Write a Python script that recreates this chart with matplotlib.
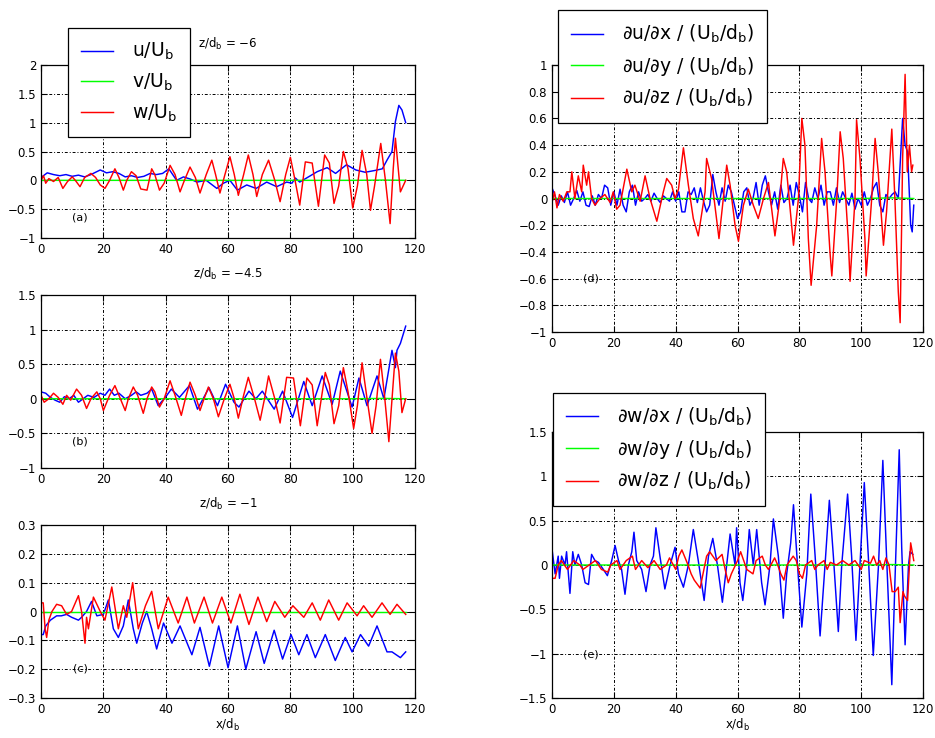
import matplotlib
matplotlib.use("Agg")
from matplotlib import pyplot as plt

plt.rcParams['font.family'] = ['DejaVu Sans']

# ---------------- panel (a): z/d_b = -6 ----------------
a_u_x = [0, 2, 4, 6, 8, 10, 12, 14, 16, 19, 21, 23, 25, 27, 29, 31, 33, 35, 37, 39, 41, 43.5, 45.7, 48, 50,
         53, 56.4, 58.5, 60.6, 63, 66, 69, 72.4, 75.6, 78.8, 80.5, 81.6, 83, 85.8, 88.6, 91.8, 94.5, 98, 101,
         104, 107, 109.5, 111, 112.6, 113.7, 114.8, 115.8, 117]
a_u_y = [0.05, 0.13, 0.1, 0.08, 0.1, 0.07, 0.09, 0.06, 0.1, 0.18, 0.13, 0.15, 0.12, 0.06, 0.08, 0.05, 0.07,
         0.12, 0.1, 0.12, 0.2, 0.0, 0.06, 0.02, -0.03, 0.0, -0.14, -0.05, 0.0, -0.17, -0.08, -0.14, -0.03,
         -0.11, -0.03, -0.05, 0.04, -0.03, 0.06, 0.15, 0.22, 0.12, 0.27, 0.18, 0.14, 0.17, 0.2, 0.35, 0.5,
         1.02, 1.3, 1.22, 1.0]
a_w_x = [0, 0.8, 1.5, 2.5, 4, 5.5, 7, 8.5, 10, 11, 12.5, 14, 16, 17.5, 19, 20.5, 22, 23.7, 25, 26.4, 27.5,
         29, 30.5, 32, 34, 35.5, 36.5, 38, 39.5, 41.4, 43, 44.6, 46, 47.8, 49.5, 51, 53, 54.8, 56, 57.4, 59,
         60.6, 62, 63.3, 65, 66.5, 68, 69.2, 71, 73, 75, 76.7, 78.5, 80, 81.5, 83, 84.8, 87, 89, 91, 92.5,
         94, 95.5, 97, 98.5, 100, 101.5, 103, 104.5, 105.7, 107, 109, 110.5, 112, 113, 113.7, 115.3, 117]
a_w_y = [0.0, 0.08, -0.05, 0.03, -0.02, 0.05, -0.14, -0.02, 0.06, 0.0, -0.11, 0.05, 0.12, 0.05, -0.08,
         -0.14, 0.0, 0.2, 0.05, -0.17, 0.0, 0.15, 0.08, -0.15, -0.17, 0.2, 0.1, -0.17, -0.05, 0.26, 0.1,
         -0.2, 0.0, 0.23, 0.05, -0.22, 0.1, 0.35, 0.1, -0.22, 0.1, 0.41, 0.1, -0.26, 0.1, 0.44, 0.1, -0.28,
         0.1, 0.35, 0.0, -0.37, 0.1, 0.4, 0.0, -0.43, 0.32, 0.3, -0.45, 0.44, 0.3, -0.4, -0.1, 0.5, 0.2,
         -0.48, -0.1, 0.52, 0.1, -0.52, -0.1, 0.64, 0.0, -0.75, 0.2, 0.73, -0.2, 0.0]

# ---------------- panel (b): z/d_b = -4.5 ----------------
b_u_x = [0, 1.5, 3, 4.5, 6, 7.5, 9, 10.5, 12, 13.5, 15, 17, 19, 20.5, 22, 23.5, 25, 27, 29, 30.5, 32, 34,
         35.5, 37.6, 40.2, 41.8, 44.4, 47.6, 50.2, 53.9, 56.6, 59.2, 61.9, 63.5, 66.7, 68.9, 71, 74.8,
         77.5, 80.7, 84.3, 87, 90.2, 93.4, 96, 99.8, 102, 104.6, 107.8, 110, 112.6, 113.7, 114.2, 115.3, 117]
b_u_y = [0.1, 0.08, 0.02, -0.02, -0.05, 0.03, 0.0, 0.05, -0.05, 0.0, 0.05, 0.02, 0.08, 0.05, 0.14, 0.05,
         0.08, 0.0, 0.05, 0.1, 0.05, 0.08, 0.14, -0.1, 0.04, 0.14, 0.02, 0.19, -0.15, 0.16, -0.1, 0.21,
         -0.05, -0.12, 0.11, 0.0, 0.11, -0.15, 0.11, -0.27, 0.25, -0.1, 0.33, -0.08, 0.4, -0.12, 0.3, -0.1,
         0.33, 0.0, 0.7, 0.45, 0.7, 0.8, 1.05]
b_w_x = [0, 1, 2.5, 4, 5.5, 7, 8.2, 9.5, 11.4, 13, 14.6, 16, 17.9, 19, 20, 22, 23.7, 25, 27, 28, 29.6, 31,
         32.8, 34, 35.5, 36.5, 38, 39.5, 41.4, 43, 45, 46.3, 47.8, 49.5, 51, 52.3, 53.7, 55.3, 56.9, 58.8,
         60.6, 62, 63.3, 65, 66.5, 68.5, 70.3, 71.7, 73, 75, 76.7, 77.8, 78.8, 81, 83.2, 85.3, 87, 88.6,
         91.2, 92.5, 94, 95.5, 97, 98.5, 100.3, 101.5, 103, 104.6, 106.2, 107.5, 108.9, 110.3, 111.6,
         113.7, 114.8, 115.8, 117]
b_w_y = [0.05, -0.05, 0.0, 0.08, 0.02, -0.08, 0.05, -0.02, 0.14, 0.05, -0.14, 0.0, 0.1, 0.0, -0.17, 0.05,
         0.19, 0.05, -0.17, 0.0, 0.17, 0.05, -0.21, 0.0, 0.17, 0.1, -0.12, 0.0, 0.26, 0.05, -0.24, 0.0,
         0.24, 0.05, -0.17, 0.0, 0.17, 0.0, -0.26, 0.0, 0.21, 0.0, -0.28, 0.05, 0.31, 0.0, -0.31, 0.0, 0.33,
         0.0, -0.35, 0.0, 0.31, 0.3, -0.39, 0.3, 0.2, -0.39, 0.38, 0.2, -0.36, -0.1, 0.45, 0.1, -0.43, -0.1,
         0.52, 0.0, -0.5, -0.1, 0.57, 0.0, -0.62, 0.66, 0.4, -0.2, 0.0]

# ---------------- panel (c): z/d_b = -1 ----------------
c_u_x = [0, 0.7, 1.5, 3, 5, 6.5, 8.2, 9.8, 12, 13, 14.6, 16.2, 17.9, 20, 21.6, 23.2, 24.8, 26.4, 28, 29.6,
         30.7, 32.5, 33.9, 35.5, 37.1, 39.3, 42, 44.6, 48.4, 51, 54, 57, 60, 63, 65.7, 69, 71.6, 74.8,
         77.5, 80.2, 82.7, 85.3, 88, 91.2, 94.4, 97.6, 99.8, 102.5, 105.1, 107.8, 111, 112.6, 115.3, 117]
c_u_y = [-0.08, -0.08, -0.05, -0.03, -0.015, -0.015, -0.01, -0.02, -0.03, -0.02, 0.0, 0.035, -0.015, -0.01,
         0.04, -0.06, -0.09, -0.05, 0.04, -0.06, -0.11, -0.04, 0.0, -0.06, -0.13, -0.04, -0.11, -0.05,
         -0.15, -0.055, -0.19, -0.05, -0.195, -0.05, -0.2, -0.07, -0.18, -0.065, -0.165, -0.08, -0.15,
         -0.08, -0.16, -0.08, -0.17, -0.09, -0.14, -0.08, -0.12, -0.05, -0.14, -0.14, -0.16, -0.14]
c_w_x = [0, 0.7, 1.3, 1.8, 2.5, 3.5, 5, 6.6, 8.2, 9.8, 12, 13, 13.6, 14.1, 14.6, 15.2, 16.8, 19, 20.5, 22.7,
         24.8, 26.4, 27.5, 29.4, 31.2, 33.5, 35.5, 37.6, 40.8, 44, 46.8, 49.2, 52.3, 55, 58, 60.9, 63.8,
         66.7, 69.6, 72.4, 75, 78.2, 80.8, 84.3, 87, 89.6, 92.3, 95.5, 98.2, 101.4, 103.5, 106.2, 109.4,
         112, 114.2, 117]
c_w_y = [0.03, 0.03, -0.06, -0.09, -0.03, 0.0, 0.025, 0.02, -0.01, 0.0, 0.055, 0.0, -0.06, -0.11, -0.02,
         -0.06, 0.05, 0.0, -0.03, 0.085, -0.06, 0.02, -0.02, 0.1, -0.06, 0.02, 0.07, -0.06, 0.05, -0.04,
         0.05, -0.04, 0.05, -0.04, 0.05, -0.04, 0.06, -0.045, 0.05, -0.035, 0.035, -0.02, 0.02, -0.02,
         0.03, -0.03, 0.04, -0.03, 0.03, -0.015, 0.02, -0.02, 0.03, -0.01, 0.025, -0.01]

# ---------------- panel (d): du/dx, du/dy, du/dz ----------------
d_ux_x = list(range(0, 113)) + [113.4, 114.2, 115, 116, 116.5, 117]
d_ux_y = [0.08, 0.02, -0.05, 0.02, -0.03, 0.05, -0.05, 0.0, 0.06, -0.02, 0.05, -0.05, -0.06, 0.02, -0.05,
          0.03, 0.0, 0.1, 0.08, -0.05, 0.05, -0.05, 0.07, -0.05, -0.1, 0.05, 0.1, -0.05, 0.05, -0.02, 0.0,
          0.03, -0.02, 0.04, 0.0, -0.03, 0.02, 0.0, -0.02, 0.05, -0.02, 0.05, -0.1, -0.1, 0.05, 0.03, 0.08,
          -0.03, 0.08, -0.02, -0.1, -0.05, 0.18, 0.05, -0.05, 0.08, -0.02, 0.1, 0.05, -0.05, -0.15, -0.1,
          0.05, 0.08, -0.05, 0.0, 0.12, -0.05, 0.1, 0.17, 0.05, -0.05, 0.05, -0.08, 0.1, -0.03, 0.0, 0.1,
          -0.05, 0.12, 0.02, -0.1, 0.12, 0.0, -0.03, 0.08, 0.0, 0.1, -0.05, 0.05, 0.05, -0.05, 0.08, -0.03,
          0.05, 0.0, -0.05, 0.04, -0.08, 0.0, -0.05, 0.05, -0.05, 0.0, 0.08, 0.12, -0.05, -0.1, 0.03, 0.0,
          0.03, 0.05, 0.0, 0.6, 0.4, 0.35, -0.2, -0.25, -0.05]
d_uz_x = [0, 0.8, 1.6, 2.4, 3.6, 4.8, 5.8, 6.4, 7.4, 8.5, 9.6, 10.1, 11.2, 11.8, 12.8, 13.9, 15.5, 17.1,
          18.8, 19.8, 20.9, 22, 24.2, 25.8, 26.8, 28.5, 30.1, 31.7, 33.9, 36, 37.1, 38.7, 39.8, 40.9, 42.5,
          44.1, 45.7, 47.3, 49.5, 50, 51.6, 54, 55.4, 56.5, 57.6, 59.2, 60.3, 61.9, 63.5, 65.1, 66.7,
          68.4, 70, 72.1, 73.7, 74.8, 75.9, 78.1, 79.7, 80.8, 81.8, 82.9, 83.8, 85.6, 87.2, 88.3, 89.9,
          90.5, 92.1, 93.2, 94.2, 95.8, 96.4, 98, 98.5, 99.6, 101.2, 101.6, 103.4, 104.5, 105.5, 107.2,
          108.2, 109.9, 110.9, 112, 112.6, 113.4, 114.2, 114.9, 115.6, 116.3, 116.7]
d_uz_y = [-0.03, 0.05, -0.07, 0.03, -0.02, 0.05, 0.05, 0.2, 0.0, 0.17, 0.05, 0.25, 0.1, 0.2, 0.0, -0.05,
          0.0, 0.03, -0.03, 0.05, -0.08, -0.05, 0.22, 0.05, 0.1, -0.02, 0.17, 0.0, -0.17, 0.05, 0.15, 0.1,
          0.0, 0.07, 0.38, 0.1, -0.15, -0.28, 0.05, 0.3, 0.15, -0.3, 0.0, 0.25, 0.1, -0.2, -0.32, -0.05,
          0.07, -0.05, -0.15, 0.0, 0.12, -0.28, 0.0, 0.3, 0.2, -0.35, 0.0, 0.6, 0.4, -0.3, -0.65, -0.2,
          0.45, 0.2, -0.4, -0.58, 0.0, 0.5, 0.3, -0.3, -0.62, 0.0, 0.59, 0.3, -0.3, -0.58, 0.0, 0.45, 0.2,
          -0.35, -0.1, 0.52, 0.0, -0.7, -0.93, 0.3, 0.93, 0.2, 0.4, 0.2, 0.25]

# ---------------- panel (e): dw/dx, dw/dy, dw/dz ----------------
e_wx_x = [0, 1, 2, 2.4, 3.1, 4.2, 4.7, 5.8, 6.7, 7.4, 8.5, 9.6, 10.7, 11.8, 12.8, 13.9, 15, 16.6, 17.9,
          19.3, 20.4, 21.5, 22.5, 23.6, 24.7, 25.8, 26.5, 27.4, 29, 30.4, 31.7, 32.8, 33.6, 34.9, 36.5,
          38.2, 39.8, 40.9, 42.5, 44.1, 45.7, 47.3, 49.2, 50.6, 52, 53.5, 55.1, 56.5, 57.6, 59.2, 59.7,
          60.8, 61.7, 63, 63.8, 65.1, 66.2, 67.8, 68.9, 70.5, 71.6, 73.2, 74.8, 75.9, 77.2, 78.1, 79.4,
          80.8, 82.4, 83.7, 85.1, 86.7, 88.3, 89.7, 91, 92.6, 93.7, 95.6, 96.9, 98.3, 99.6, 101, 102.3,
          103.9, 105.6, 107, 108.2, 109.9, 110.9, 112.3, 113.1, 114.2, 115.3, 115.8, 116.7]
e_wx_y = [0.18, -0.1, 0.1, -0.15, 0.1, 0.0, 0.15, -0.32, 0.15, 0.0, 0.12, 0.0, -0.2, -0.22, 0.12, 0.05,
          0.03, -0.05, -0.12, 0.05, 0.22, 0.05, -0.05, -0.33, 0.0, 0.15, 0.37, 0.05, -0.05, -0.3, 0.0, 0.1,
          0.42, 0.1, -0.27, 0.0, 0.2, -0.1, -0.25, 0.0, 0.4, 0.05, -0.4, 0.1, 0.3, 0.0, -0.42, 0.0, 0.35,
          0.0, 0.42, -0.2, -0.4, 0.0, 0.4, 0.0, 0.4, -0.2, -0.45, 0.0, 0.52, 0.1, -0.6, -0.1, 0.25, 0.68,
          0.0, -0.7, -0.1, 0.8, 0.1, -0.8, 0.0, 0.73, 0.1, -0.75, 0.0, 0.8, 0.1, -0.85, 0.0, 0.93, 0.1,
          -1.02, 0.0, 1.18, 0.1, -1.35, -0.2, 1.3, 0.2, -0.9, 0.0, 0.15, 0.12]
e_wz_x = [0, 1, 2, 3, 5, 7, 9, 10, 12, 14, 16, 18, 19, 21, 22, 24, 26, 27, 29, 31, 33, 35, 37, 38, 40, 41,
          42, 44, 45, 46, 47.9, 50, 51, 53, 55, 56, 57, 58, 60, 61, 62, 63, 65, 66, 68, 69, 70, 72, 73,
          74, 75, 76, 78, 79, 80, 81, 82, 84, 85, 86, 88, 89, 90, 92, 94, 96, 98, 100, 101, 103, 104, 105,
          106, 107, 108, 109, 110, 111, 112, 112.6, 113.5, 114, 115, 116, 117]
e_wz_y = [-0.15, -0.15, 0.0, 0.05, -0.05, 0.05, 0.0, -0.05, 0.0, 0.05, -0.05, -0.08, 0.0, 0.05, -0.05,
          0.05, 0.1, -0.05, 0.05, -0.03, 0.05, -0.05, 0.0, 0.08, -0.05, 0.1, 0.17, 0.0, -0.1, -0.17, -0.26,
          0.1, 0.15, 0.05, 0.12, -0.05, -0.2, -0.1, 0.05, 0.15, 0.05, -0.05, -0.1, 0.05, 0.1, 0.0, -0.05,
          0.08, 0.0, -0.1, -0.17, 0.0, 0.1, 0.05, -0.1, -0.15, 0.0, 0.05, -0.05, 0.0, 0.05, -0.05, 0.03,
          0.0, 0.05, 0.0, 0.05, -0.05, 0.05, 0.02, 0.1, 0.0, 0.05, -0.05, 0.08, 0.0, -0.3, -0.3, -0.25,
          -0.65, -0.3, -0.35, -0.4, 0.25, 0.05]

# spanwise components, essentially zero everywhere
g_x = [0, 20, 40, 60, 80, 100, 110, 117]
g_y = [0.0, 0.0, 0.0, 0.0, 0.0, 0.0, 0.005, 0.0]

x_ticks = [0, 20, 40, 60, 80, 100, 120]

grid_style = (0, (3, 2, 1, 2))


def setup(ax, ylim, yticks, tag, tag_y):
    ax.set_xlim(0, 120)
    ax.set_ylim(*ylim)
    ax.set_xticks(x_ticks)
    ax.set_yticks(yticks)
    ax.set_yticklabels([("%g" % t).replace("-", "\u2212") for t in yticks])
    ax.grid(True, color="k", linestyle=grid_style, linewidth=0.7)
    ax.tick_params(direction="in", length=4, labelsize=8.5, top=True, right=True)
    for s in ax.spines.values():
        s.set_linewidth(0.9)
    ax.text(12.5, tag_y, tag, fontsize=8, ha="center", va="center")


fig = plt.figure(figsize=(9.35, 7.38), dpi=100)

lw = 1.05
leg_kw = dict(loc="upper left", borderaxespad=0, fancybox=False, framealpha=1, edgecolor="k",
              fontsize=13.5, handlelength=1.7, handletextpad=1.0, labelspacing=0.5, borderpad=0.7)

# (a)
ax = fig.add_axes([0.0439, 0.6775, 0.400, 0.2344])
ax.plot(a_u_x, a_u_y, color="b", lw=lw, label="u/U$_\\mathregular{b}$")
ax.plot(g_x, g_y, color="#00ff00", lw=lw, label="v/U$_\\mathregular{b}$")
ax.plot(a_w_x, a_w_y, color="r", lw=lw, label="w/U$_\\mathregular{b}$")
setup(ax, (-1, 2), [-1, -0.5, 0, 0.5, 1, 1.5, 2], "(a)", -0.65)
ax.set_title("z/d$_\\mathregular{b}$ = \u22126", fontsize=8.5, pad=12)
lg = ax.legend(bbox_to_anchor=(0.072, 1.214), **leg_kw)
lg.get_frame().set_linewidth(0.9)

# (b)
ax = fig.add_axes([0.0439, 0.3659, 0.400, 0.2344])
ax.plot(b_u_x, b_u_y, color="b", lw=lw)
ax.plot(g_x, g_y, color="#00ff00", lw=lw)
ax.plot(b_w_x, b_w_y, color="r", lw=lw)
setup(ax, (-1, 1.5), [-1, -0.5, 0, 0.5, 1, 1.5], "(b)", -0.62)
ax.set_title("z/d$_\\mathregular{b}$ = \u22124.5", fontsize=8.5, pad=12)

# (c)
ax = fig.add_axes([0.0439, 0.0542, 0.400, 0.2344])
ax.plot(c_u_x, c_u_y, color="b", lw=lw)
ax.plot(g_x, [0.0 for v in g_y], color="#00ff00", lw=lw)
ax.plot(c_w_x, c_w_y, color="r", lw=lw)
setup(ax, (-0.3, 0.3), [-0.3, -0.2, -0.1, 0, 0.1, 0.2, 0.3], "(c)", -0.196)
ax.set_title("z/d$_\\mathregular{b}$ = \u22121", fontsize=8.5, pad=12)
ax.set_xlabel("x/d$_\\mathregular{b}$", fontsize=8.5, labelpad=1)

# (d)
ax = fig.add_axes([0.5904, 0.5501, 0.3968, 0.3618])
ax.plot(d_ux_x, d_ux_y, color="b", lw=lw, label="\u2202u/\u2202x / (U$_\\mathregular{b}$/d$_\\mathregular{b}$)")
ax.plot(g_x, g_y, color="#00ff00", lw=lw, label="\u2202u/\u2202y / (U$_\\mathregular{b}$/d$_\\mathregular{b}$)")
ax.plot(d_uz_x, d_uz_y, color="r", lw=lw, label="\u2202u/\u2202z / (U$_\\mathregular{b}$/d$_\\mathregular{b}$)")
setup(ax, (-1, 1), [-1, -0.8, -0.6, -0.4, -0.2, 0, 0.2, 0.4, 0.6, 0.8, 1], "(d)", -0.6)
lg = ax.legend(bbox_to_anchor=(0.016, 1.206), **leg_kw)
lg.get_frame().set_linewidth(0.9)

# (e)
ax = fig.add_axes([0.5904, 0.0542, 0.3968, 0.3604])
ax.plot(e_wx_x, e_wx_y, color="b", lw=lw, label="\u2202w/\u2202x / (U$_\\mathregular{b}$/d$_\\mathregular{b}$)")
ax.plot(g_x, g_y, color="#00ff00", lw=lw, label="\u2202w/\u2202y / (U$_\\mathregular{b}$/d$_\\mathregular{b}$)")
ax.plot(e_wz_x, e_wz_y, color="r", lw=lw, label="\u2202w/\u2202z / (U$_\\mathregular{b}$/d$_\\mathregular{b}$)")
setup(ax, (-1.5, 1.5), [-1.5, -1, -0.5, 0, 0.5, 1, 1.5], "(e)", -1.01)
ax.set_xlabel("x/d$_\\mathregular{b}$", fontsize=8.5, labelpad=1)
lg = ax.legend(bbox_to_anchor=(0.003, 1.147), **leg_kw)
lg.get_frame().set_linewidth(0.9)

fig.savefig("out.png", dpi=100)
